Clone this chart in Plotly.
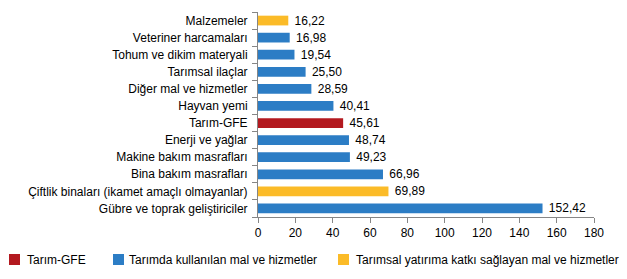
import plotly.graph_objects as go

categories = ["Malzemeler", "Veteriner harcamaları", "Tohum ve dikim materyali",
              "Tarımsal ilaçlar", "Diğer mal ve hizmetler", "Hayvan yemi", "Tarım-GFE",
              "Enerji ve yağlar", "Makine bakım masrafları", "Bina bakım masrafları",
              "Çiftlik binaları (ikamet amaçlı olmayanlar)", "Gübre ve toprak geliştiriciler"]
values = [16.22, 16.98, 19.54, 25.50, 28.59, 40.41, 45.61, 48.74, 49.23, 66.96, 69.89, 152.42]
groups = ["yat", "kul", "kul", "kul", "kul", "kul", "gfe", "kul", "kul", "kul", "yat", "kul"]
series_keys = ["gfe", "kul", "yat"]
series_names = {"gfe": "Tarım-GFE",
                "kul": "Tarımda kullanılan mal ve hizmetler",
                "yat": "Tarımsal yatırıma katkı sağlayan mal ve hizmetler"}
series_colors = {"gfe": "#B3191F", "kul": "#2C7DC5", "yat": "#FBBB28"}
x_ticks = [0, 20, 40, 60, 80, 100, 120, 140, 160, 180]

FONT = "Liberation Sans, Arial, sans-serif"
W, H = 627, 279
ML, MR, MT, MB = 258, 33, 12, 62
PW, PH = W - ML - MR, H - MT - MB


def px_to_paper(px, py):
    return (px - ML) / PW, (H - MB - py) / PH


fig = go.Figure()
for key in series_keys:
    ys = [c for c, g in zip(categories, groups) if g == key]
    xs = [v for v, g in zip(values, groups) if g == key]
    fig.add_trace(go.Bar(
        y=ys, x=xs, orientation="h", name=series_names[key],
        marker=dict(color=series_colors[key], line=dict(width=0)),
        width=0.57,
        text=[f"{v:.2f}".replace(".", ",") for v in xs],
        texttemplate="\u00a0%{text}",
        textposition="outside", cliponaxis=False, constraintext="none",
        textfont=dict(size=12, color="#000000", family=FONT),
        showlegend=False,
    ))

# manual legend (layout positions in pixels)
legend_icon_x = {"gfe": 9, "kul": 113, "yat": 338}
legend_text_x = {"gfe": 25, "kul": 127, "yat": 354}
icon_top, icon_size, text_y = 254, 11, 259.5
for key in series_keys:
    x0, y0 = px_to_paper(legend_icon_x[key], icon_top + icon_size)
    x1, y1 = px_to_paper(legend_icon_x[key] + icon_size, icon_top)
    fig.add_shape(type="rect", xref="paper", yref="paper", x0=x0, x1=x1, y0=y0, y1=y1,
                  fillcolor=series_colors[key], line=dict(width=0))
    tx, ty = px_to_paper(legend_text_x[key], text_y)
    fig.add_annotation(xref="paper", yref="paper", x=tx, y=ty, text=series_names[key],
                       showarrow=False, xanchor="left", yanchor="middle",
                       font=dict(size=12, family=FONT, color="#000000"))

fig.update_layout(
    width=W, height=H,
    margin=dict(l=ML, r=MR, t=MT, b=MB),
    barmode="overlay",
    plot_bgcolor="white", paper_bgcolor="white",
    font=dict(family=FONT, size=12, color="#000000"),
    showlegend=False,
)
fig.update_xaxes(range=[0, 180], tickvals=x_ticks, ticktext=[str(t) for t in x_ticks],
                 showline=True, linecolor="#868686", linewidth=1, ticks="outside",
                 ticklen=5, tickcolor="#868686", showgrid=False, zeroline=False,
                 tickfont=dict(size=12))
fig.update_yaxes(categoryorder="array", categoryarray=categories, autorange="reversed",
                 tickmode="array", tickvals=categories,
                 showline=True, linecolor="#868686", linewidth=1, ticks="outside",
                 ticklen=5, tickcolor="#868686", tickson="boundaries", showgrid=False,
                 ticklabelstandoff=7, tickfont=dict(size=12))

fig.write_html("out.html")
